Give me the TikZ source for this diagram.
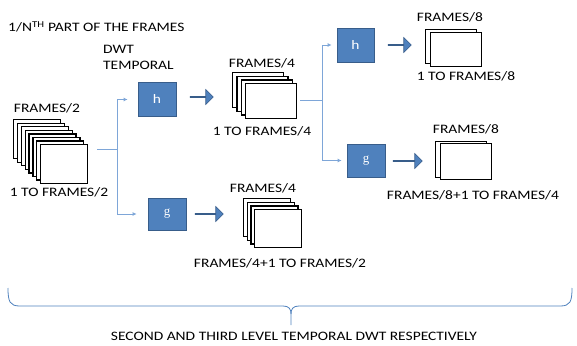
\documentclass[tikz,border=0pt]{standalone}
\usepackage{fontspec}
\setmainfont[FakeStretch=1.2]{Carlito}
\newfontfamily\gfont{Liberation Serif}
\usetikzlibrary{arrows.meta,shapes.arrows,calc}
\definecolor{boxblue}{HTML}{4F81BD}
\definecolor{boxedge}{HTML}{385D8A}
\definecolor{linkblue}{HTML}{7EA6D8}
\tikzset{
  lbl/.style={font=\fontsize{12.9}{14}\selectfont, inner sep=0pt},
  filt/.style={fill=boxblue, draw=boxedge, line width=0.8pt, minimum width=38pt,
    minimum height=34pt, inner sep=0pt, text=white, font=\fontsize{12.9}{14}\selectfont},
  frm/.style={draw=black, fill=white, line width=1.3pt, inner sep=0pt, anchor=north west},
  bigarrow/.style={single arrow, fill=boxblue, draw=boxedge, line width=0.6pt,
    minimum height=23pt, minimum width=15pt, single arrow head extend=4pt, inner sep=0pt},
  conn/.style={draw=linkblue, line width=0.9pt},
  connarrow/.style={conn, -{Latex[length=4pt,width=4pt]}},
  bracestyle/.style={draw=boxblue, line width=0.8pt}
}
\begin{document}
\begin{tikzpicture}[x=1pt,y=-1pt]
\useasboundingbox (0,0) rectangle (577,345);

% titles
\node[lbl, anchor=west] (title) at (8,27) {1/N\textsuperscript{TH} PART OF THE FRAMES};
\node[lbl, anchor=west] (dwt) at (103,49) {DWT};
\node[lbl, anchor=west] (temporal) at (103,65) {TEMPORAL};

% level: FRAMES/2 stack
\node[lbl] (l2top) at (47,108) {FRAMES/2};
\foreach \i in {7,6,...,0}
  \node[frm, minimum width=47pt, minimum height=39pt] (s2-\i) at ({40-3.85*\i},{144-3.57*\i}) {};
\node[lbl] (l2bot) at (59,192) {1 TO FRAMES/2};

% first filters
\node[filt] (h1) at (157,99.5) {h};
\node[filt, minimum height=32pt] (g1) at (167,214) {\gfont g};
\node[bigarrow] (a1) at (201.5,97) {};
\node[bigarrow, minimum height=28pt] (a2) at (209,214) {};

\coordinate (j1a) at (97,149.5);
\coordinate (j1) at (117,149.5);
\draw[conn] (j1a) -- (j1);
\draw[connarrow, shorten >=10pt] (j1) |- (h1.west);
\draw[connarrow, shorten >=11pt] (j1) |- (g1.west);

% FRAMES/4 top stack
\node[lbl] (l4top) at (262,63) {FRAMES/4};
\foreach \i in {3,2,1,0}
  \node[frm, minimum width=51pt, minimum height=35pt] (s4-\i) at ({245-4.3*\i},{83-3.7*\i}) {};
\node[lbl] (l4bot) at (262,131) {1 TO FRAMES/4};

% FRAMES/4 lower stack
\node[lbl] (m4top) at (263,188) {FRAMES/4};
\foreach \i in {3,2,1,0}
  \node[frm, minimum width=47pt, minimum height=38pt] (m4-\i) at ({254-3.7*\i},{209-3.7*\i}) {};
\node[lbl] (m4bot) at (280,263) {FRAMES/4+1 TO FRAMES/2};

% second filters
\node[filt, minimum width=37pt] (h2) at (355.5,45) {h};
\node[filt, minimum height=33pt] (g2) at (366,160.5) {\gfont g};
\node[bigarrow] (a3) at (399.5,45) {};
\node[bigarrow, minimum height=29pt] (a4) at (407.5,161) {};

\coordinate (j2a) at (300,100);
\coordinate (j2) at (322,100);
\draw[conn] (j2a) -- (j2);
\draw[connarrow, shorten >=5pt] (j2) |- (h2.west);
\draw[connarrow, shorten >=5pt] (j2) |- (g2.west);

% FRAMES/8 top stack
\node[lbl] (l8top) at (450,17.5) {FRAMES/8};
\foreach \i in {1,0}
  \node[frm, minimum width=51pt, minimum height=34pt] (s8-\i) at ({430-5*\i},{32-3*\i}) {};
\node[lbl] (l8bot) at (466,76.5) {1 TO FRAMES/8};

% FRAMES/8 lower stack
\node[lbl] (m8top) at (466,129.5) {FRAMES/8};
\foreach \i in {1,0}
  \node[frm, minimum width=51pt, minimum height=36pt] (m8-\i) at ({440-5*\i},{143-2.5*\i}) {};
\node[lbl] (m8bot) at (473,195.5) {FRAMES/8+1 TO FRAMES/4};

% brace
\coordinate (bl) at (8,288);
\coordinate (br) at (572,288);
\coordinate (bm) at (291,325);
\draw[bracestyle] (bl) .. controls (8,302) and (10,306) .. (20,306) -- (283,306)
  .. controls (289,306) and (291,309) .. (291,314) -- (bm);
\draw[bracestyle] (br) .. controls (572,302) and (570,306) .. (560,306) -- (299,306)
  .. controls (293,306) and (291,309) .. (291,314);
\node[lbl] (bottom) at (294,336) {SECOND AND THIRD LEVEL TEMPORAL DWT RESPECTIVELY};
\end{tikzpicture}
\end{document}
